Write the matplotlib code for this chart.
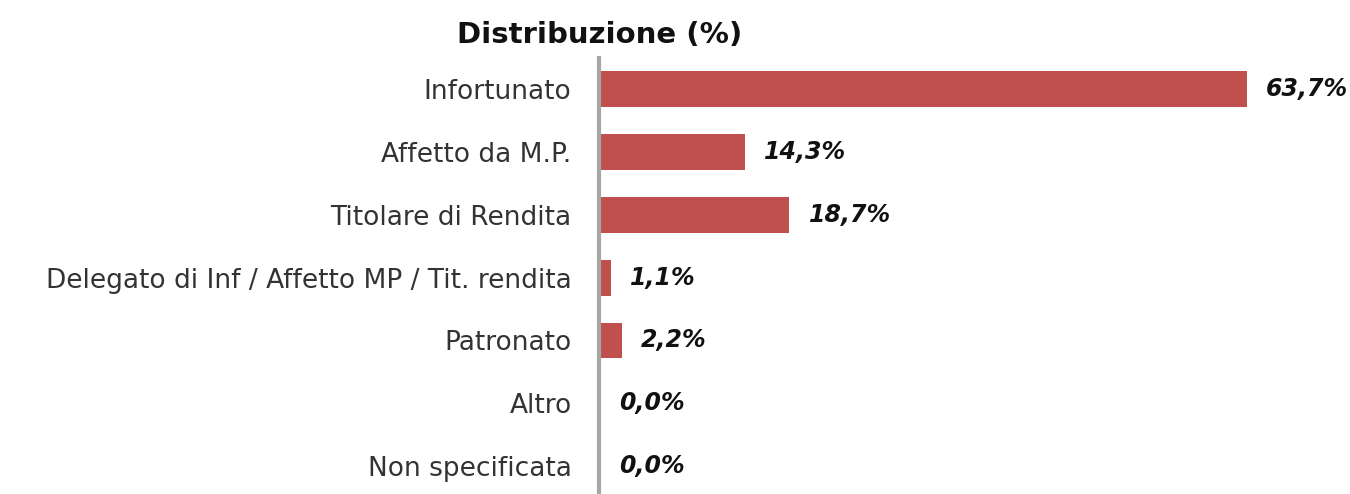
import matplotlib.pyplot as plt

categories = ['Infortunato', 'Affetto da M.P.', 'Titolare di Rendita',
              'Delegato di Inf / Affetto MP / Tit. rendita', 'Patronato',
              'Altro', 'Non specificata']
values = [63.7, 14.3, 18.7, 1.1, 2.2, 0.0, 0.0]
labels = ['63,7%', '14,3%', '18,7%', '1,1%', '2,2%', '0,0%', '0,0%']

plt.rcParams['font.family'] = ['DejaVu Sans']

fig = plt.figure(figsize=(13.5, 4.94), dpi=100)
ax = fig.add_axes([0.444, -0.007, 0.542, 0.890])

ypos = list(range(len(categories)))
ax.barh(ypos, values, height=0.57, color='#C0504D')
ax.set_ylim(len(categories) - 0.5, -0.5)
ax.set_xlim(0, 72)

for y, v, lab in zip(ypos, values, labels):
    ax.text(v + 1.9, y, lab, va='center', ha='left', fontsize=17,
            fontweight='bold', fontstyle='italic', color='#111111')

ax.set_yticks(ypos)
ax.set_yticklabels(categories, fontsize=19, color='#333333')
ax.tick_params(axis='y', length=0, pad=20)
ax.set_xticks([])

for s in ['top', 'right', 'bottom']:
    ax.spines[s].set_visible(False)
ax.spines['left'].set_color('#A6A6A6')
ax.spines['left'].set_linewidth(3)

fig.text(0.444, 0.93, 'Distribuzione (%)', ha='center', va='center',
         fontsize=21, fontweight='bold', color='#111111')

fig.savefig('out.png', dpi=100)
